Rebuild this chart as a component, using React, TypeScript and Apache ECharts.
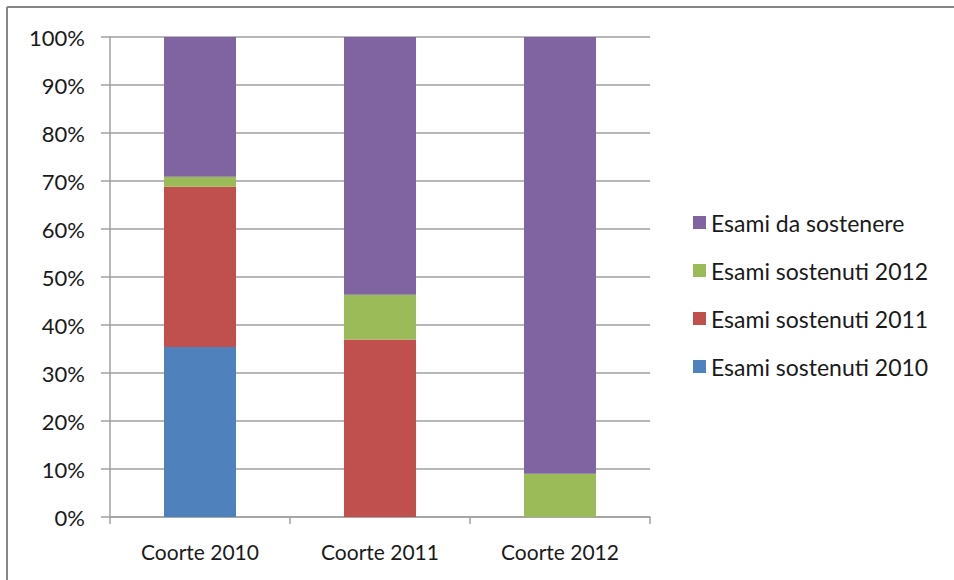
import React, { useEffect, useRef } from "react";
import * as echarts from "echarts";

const categories = ["Coorte 2010", "Coorte 2011", "Coorte 2012"];
const sostenuti2010 = [35.4, 0, 0];
const sostenuti2011 = [33.4, 37.0, 0];
const sostenuti2012 = [2.1, 9.3, 9.0];
const daSostenere = [29.1, 53.7, 91.0];
const legendOrder = [
  "Esami da sostenere",
  "Esami sostenuti 2012",
  "Esami sostenuti 2011",
  "Esami sostenuti 2010",
];

const FONT = "Lato, 'Open Sans', sans-serif";

export default function App() {
  const ref = useRef<HTMLDivElement>(null);
  useEffect(() => {
    if (!ref.current) return;
    const chart = echarts.init(ref.current, null, { renderer: "svg" });
    const mk = (name: string, data: number[], color: string) => ({
      name,
      type: "bar",
      stack: "total",
      data,
      barWidth: 72,
      itemStyle: { color },
    });
    chart.setOption({
      animation: false,
      backgroundColor: "#ffffff",
      textStyle: { fontFamily: FONT },
      grid: { left: 110, top: 37, width: 540, height: 480, containLabel: false },
      legend: {
        orient: "vertical",
        left: 688,
        top: 206,
        itemWidth: 13,
        itemHeight: 13,
        itemGap: 25,
        icon: "rect",
        data: legendOrder,
        textStyle: {
          fontFamily: FONT,
          fontSize: 23,
          color: "#1a1a1a",
          lineHeight: 23,
        },
      },
      xAxis: {
        type: "category",
        data: categories,
        axisLine: { lineStyle: { color: "#a0a0a0", width: 1.5 } },
        axisTick: { show: true, length: 7, lineStyle: { color: "#a0a0a0", width: 1.5 } },
        axisLabel: { margin: 24, fontSize: 21, color: "#1a1a1a", fontFamily: FONT },
      },
      yAxis: {
        type: "value",
        min: 0,
        max: 100,
        interval: 10,
        axisLine: { show: true, lineStyle: { color: "#a0a0a0", width: 1.5 } },
        axisTick: { show: true, length: 9, lineStyle: { color: "#a0a0a0", width: 1.5 } },
        splitLine: { show: true, lineStyle: { color: "#a0a0a0", width: 1.5 } },
        axisLabel: {
          formatter: "{value}%",
          margin: 25,
          fontSize: 22,
          color: "#1a1a1a",
          fontFamily: FONT,
        },
      },
      graphic: [
        {
          type: "line",
          shape: { x1: 7, y1: 7, x2: 954, y2: 7 },
          style: { stroke: "#868686", lineWidth: 2 },
          silent: true,
        },
        {
          type: "line",
          shape: { x1: 7, y1: 7, x2: 7, y2: 580 },
          style: { stroke: "#868686", lineWidth: 2 },
          silent: true,
        },
      ],
      series: [
        mk("Esami sostenuti 2010", sostenuti2010, "#4f81bd"),
        mk("Esami sostenuti 2011", sostenuti2011, "#c0504d"),
        mk("Esami sostenuti 2012", sostenuti2012, "#9bbb59"),
        mk("Esami da sostenere", daSostenere, "#8064a2"),
      ],
    });
    return () => chart.dispose();
  }, []);
  return (
    <div
      ref={ref}
      style={{ position: "absolute", left: 0, top: 0, width: 954, height: 580 }}
    />
  );
}
